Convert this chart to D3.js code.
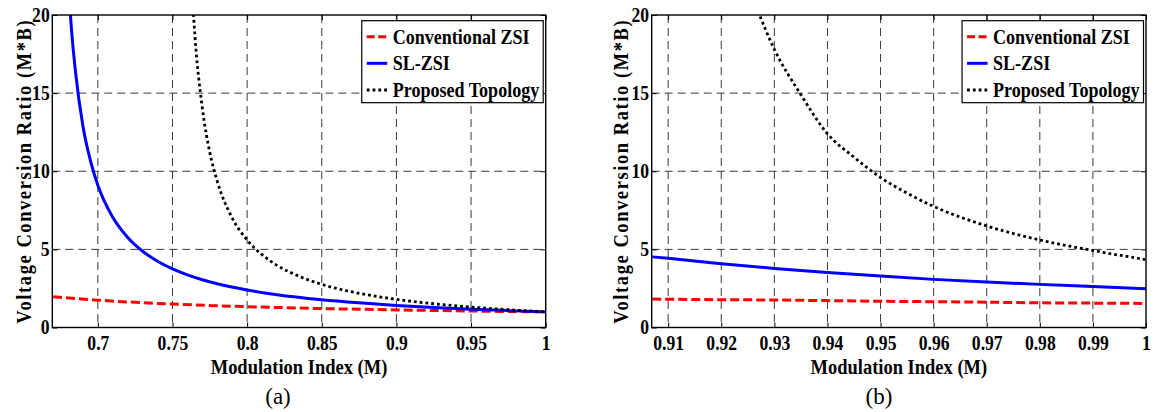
<!DOCTYPE html>
<html>
<head>
<meta charset="utf-8">
<script src="https://cdn.jsdelivr.net/npm/d3@7"></script>
<style>
  body { margin: 0; background: #fff; }
  text { font-family: "Liberation Serif", "Times New Roman", serif; }
</style>
</head>
<body>
<script>
// ---- panel (a) : wide modulation range ----
const mConvA = [0.67, 0.70, 0.725, 0.75, 0.775, 0.80, 0.825, 0.85, 0.875, 0.90, 0.925, 0.95, 0.975, 1.0];
const convA = [1.97, 1.75, 1.61, 1.50, 1.41, 1.33, 1.27, 1.21, 1.17, 1.125, 1.09, 1.056, 1.026, 1.0];

const mSlA = [0.68, 0.6825, 0.685, 0.69, 0.695, 0.70, 0.71, 0.72, 0.73, 0.74, 0.75, 0.76, 0.77, 0.78, 0.80, 0.82, 0.85, 0.875, 0.90, 0.925, 0.95, 0.975, 1.0];
const slA = [22.4, 18.9, 16.4, 12.9, 10.7, 9.1, 7.05, 5.76, 4.88, 4.24, 3.75, 3.37, 3.06, 2.80, 2.40, 2.10, 1.78, 1.58, 1.41, 1.28, 1.17, 1.08, 1.0];

const mPropA = [0.762, 0.765, 0.77, 0.775, 0.78, 0.79, 0.80, 0.81, 0.82, 0.835, 0.85, 0.875, 0.90, 0.925, 0.95, 0.975, 1.0];
const propA = [23.4, 18.7, 14.05, 11.2, 9.36, 7.01, 5.6, 4.66, 3.98, 3.27, 2.76, 2.19, 1.8, 1.52, 1.31, 1.14, 1.0];

// ---- panel (b) : zoom near M = 1 ----
const mB = [0.907, 0.91, 0.92, 0.93, 0.94, 0.95, 0.96, 0.97, 0.98, 0.99, 1.0];
const convB = [1.82, 1.81, 1.78, 1.76, 1.72, 1.68, 1.65, 1.62, 1.58, 1.56, 1.54];
const slB = [4.52, 4.43, 4.08, 3.78, 3.52, 3.29, 3.08, 2.91, 2.76, 2.62, 2.48];

const mPropB = [0.9265, 0.93, 0.935, 0.94, 0.945, 0.95, 0.955, 0.96, 0.97, 0.98, 0.99, 1.0];
const propB = [20.6, 17.8, 14.9, 12.4, 10.9, 9.6, 8.6, 7.75, 6.5, 5.6, 4.93, 4.34];

const xTicksA = [0.7, 0.75, 0.8, 0.85, 0.9, 0.95, 1];
const xTicksB = [0.91, 0.92, 0.93, 0.94, 0.95, 0.96, 0.97, 0.98, 0.99, 1];
const yTicks = [0, 5, 10, 15, 20];
const legendLabels = ["Conventional ZSI", "SL-ZSI", "Proposed Topology"];

const width = 1155, height = 412;

const svg = d3.select("body").append("svg")
    .attr("width", width)
    .attr("height", height);

svg.append("rect").attr("width", width).attr("height", height).attr("fill", "#fff");

// line styles for the three converters
const styles = [
    {color: "#ff0000", dash: "9,4", w: 3},
    {color: "#0000ff", dash: null, w: 3},
    {color: "#000000", dash: "2.8,3", w: 2.8}
];

// the figure font is a tall, narrow bold serif: big size, squeezed horizontally
const squeeze = 0.88;

let clipId = 0;

function drawPanel(p) {
    const g = svg.append("g");

    const x = d3.scaleLinear().domain(p.xDomain).range([p.left, p.right]);
    const y = d3.scaleLinear().domain([0, 20]).range([p.bottom, p.top]);

    // dashed grid
    g.append("g").selectAll("line")
        .data(p.xTicks.filter(d => d < p.xDomain[1]))
        .enter().append("line")
        .attr("x1", d => x(d)).attr("x2", d => x(d))
        .attr("y1", p.top).attr("y2", p.bottom)
        .attr("stroke", "#3a3a3a").attr("stroke-width", 1)
        .attr("stroke-dasharray", "8,5");

    g.append("g").selectAll("line")
        .data(yTicks.filter(d => d > 0 && d < 20))
        .enter().append("line")
        .attr("x1", p.left).attr("x2", p.right)
        .attr("y1", d => y(d)).attr("y2", d => y(d))
        .attr("stroke", "#3a3a3a").attr("stroke-width", 1)
        .attr("stroke-dasharray", "8,5");

    // curves, clipped to the axes box
    const id = "clip" + (clipId++);
    svg.append("clipPath").attr("id", id)
        .append("rect")
        .attr("x", p.left).attr("y", p.top)
        .attr("width", p.right - p.left).attr("height", p.bottom - p.top);

    const line = d3.line()
        .x(d => x(d[0]))
        .y(d => y(d[1]))
        .curve(d3.curveMonotoneX);

    const curves = g.append("g").attr("clip-path", "url(#" + id + ")");
    p.series.forEach((s, i) => {
        curves.append("path")
            .datum(d3.zip(s.m, s.v))
            .attr("d", line)
            .attr("fill", "none")
            .attr("stroke", styles[i].color)
            .attr("stroke-width", styles[i].w)
            .attr("stroke-dasharray", styles[i].dash);
    });

    // axes with inward ticks (MATLAB style)
    const fmt = d => String(d);
    const xAxis = g.append("g")
        .attr("transform", "translate(0," + p.bottom + ")")
        .call(d3.axisBottom(x).tickValues(p.xTicks).tickSize(-5).tickPadding(8).tickFormat(fmt));
    g.append("g")
        .attr("transform", "translate(0," + p.top + ")")
        .call(d3.axisTop(x).tickValues(p.xTicks).tickSize(-5).tickFormat(""));
    const yAxis = g.append("g")
        .attr("transform", "translate(" + p.left + ",0)")
        .call(d3.axisLeft(y).tickValues(yTicks).tickSize(-5).tickPadding(3).tickFormat(fmt));
    g.append("g")
        .attr("transform", "translate(" + p.right + ",0)")
        .call(d3.axisRight(y).tickValues(yTicks).tickSize(-5).tickFormat(""));

    g.selectAll(".domain").remove();
    g.selectAll(".tick line").attr("stroke", "#000").attr("stroke-width", 1);
    [xAxis, yAxis].forEach(a => a.selectAll("text")
        .style("font-family", "'Liberation Serif', serif")
        .style("font-size", "20px")
        .style("font-weight", "bold")
        .attr("transform", "scale(" + squeeze + ",1)")
        .attr("fill", "#000"));

    // axes box
    g.append("rect")
        .attr("x", p.left).attr("y", p.top)
        .attr("width", p.right - p.left).attr("height", p.bottom - p.top)
        .attr("fill", "none").attr("stroke", "#000").attr("stroke-width", 1.4);

    // axis titles
    g.append("text")
        .attr("transform", "translate(" + ((p.left + p.right) / 2) + ",373.5) scale(0.86,1)")
        .attr("text-anchor", "middle")
        .style("font-size", "21.5px").style("font-weight", "bold")
        .text("Modulation Index (M)");

    g.append("text")
        .attr("transform", "translate(" + p.ylabelX + "," + ((p.top + p.bottom) / 2) + ") rotate(-90) scale(0.88,1)")
        .attr("text-anchor", "middle")
        .style("font-size", "21px").style("font-weight", "bold")
        .style("letter-spacing", "1.8px")
        .text("Voltage Conversion Ratio (M*B)");

    g.append("text")
        .attr("x", p.captionX).attr("y", 404)
        .attr("text-anchor", "middle")
        .style("font-size", "23px")
        .text(p.caption);

    // legend
    const lg = g.append("g");
    const box = lg.append("rect")
        .attr("fill", "#fff").attr("stroke", "#000").attr("stroke-width", 1.2);
    const rowY = [16, 42.6, 69.3];
    let maxW = 0;
    legendLabels.forEach((lab, i) => {
        lg.append("line")
            .attr("x1", 5).attr("x2", 25.5)
            .attr("y1", rowY[i]).attr("y2", rowY[i])
            .attr("stroke", styles[i].color)
            .attr("stroke-width", styles[i].w)
            .attr("stroke-dasharray", i === 0 ? "8,3.5" : styles[i].dash);
        const t = lg.append("text")
            .attr("transform", "translate(31," + (rowY[i] + 7) + ") scale(0.88,1)")
            .style("font-size", "20.5px").style("font-weight", "bold")
            .text(lab);
        maxW = Math.max(maxW, t.node().getComputedTextLength() * 0.88);
    });
    const boxW = 31 + maxW + 4;
    box.attr("x", 0).attr("y", 0).attr("width", boxW).attr("height", 82);
    lg.attr("transform", "translate(" + (p.right - 2.5 - boxW) + "," + (p.top + 5.7) + ")");
}

drawPanel({
    left: 52.3, right: 545.7, top: 15, bottom: 327.5,
    xDomain: [0.6695, 1], xTicks: xTicksA,
    series: [
        {m: mConvA, v: convA},
        {m: mSlA, v: slA},
        {m: mPropA, v: propA}
    ],
    ylabelX: 30.5, caption: "(a)", captionX: 278
});

drawPanel({
    left: 651.7, right: 1146, top: 15, bottom: 327.5,
    xDomain: [0.9069, 1], xTicks: xTicksB,
    series: [
        {m: mB, v: convB},
        {m: mB, v: slB},
        {m: mPropB, v: propB}
    ],
    ylabelX: 628, caption: "(b)", captionX: 879
});
</script>
</body>
</html>
